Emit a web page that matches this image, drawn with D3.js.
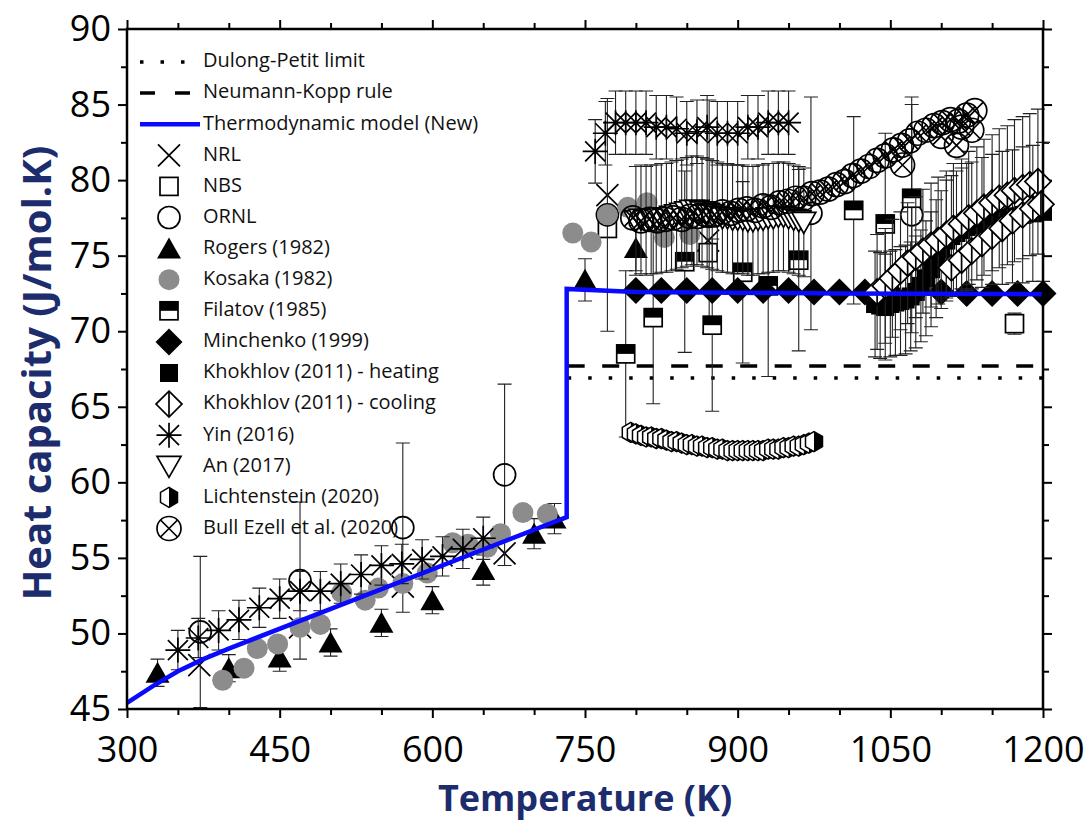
<!DOCTYPE html>
<html lang="en">
<head>
<meta charset="utf-8">
<title>Heat capacity vs temperature</title>
<script src="https://d3js.org/d3.v7.min.js"></script>
<style>
    body { margin: 0; background: #fff; }
    svg { display: block; font-family: "Open Sans", sans-serif; }
    .axis text { font-size: 36px; fill: #000; font-family: "Open Sans", sans-serif; }
    .axis line { stroke: #000; stroke-width: 2; }
    .axis path { display: none; }
    .legend text { font-size: 20px; fill: #111; dominant-baseline: middle; }
</style>
</head>
<body>
<div id="chart"></div>
<script>
// ---- data: [T (K), Cp (J/mol.K), error] ----
const xTicks = [300, 450, 600, 750, 900, 1050, 1200];
const yTicks = [45, 50, 55, 60, 65, 70, 75, 80, 85, 90];

const dulongT = [733, 1200], dulongCp = [66.9, 66.9];
const neumannT = [733, 1200], neumannCp = [67.7, 67.7];
const modelT = [300, 325, 350, 375, 400, 732, 732, 800, 1000, 1200];
const modelCp = [45.4, 46.5, 47.5, 48.3, 49.0, 57.7, 72.8, 72.6, 72.5, 72.45];

const nrl = [[371, 47.9], [470, 50.4], [571, 53.1], [671, 55.3], [772, 79.0], [871, 76.0]];
const nbs = [[772, 76.8, 0], [871, 75.2, 0], [1172, 70.5, 0.7]];
const ornl = [[372, 50.1, 5.0], [470, 53.5, 5.2], [571, 57.0, 5.6], [671, 60.5, 6.0],
    [772, 77.7, 7.7], [872, 77.6, 7.7], [972, 77.8, 7.7], [1071, 77.7, 7.8]];
const rogers = [[330, 47.4, 0.9], [400, 47.7, 0.9], [450, 48.4, 0.9], [500, 49.4, 0.9],
    [550, 50.7, 0.9], [600, 52.2, 0.9], [650, 54.2, 1.0], [700, 56.6, 1.0], [720, 57.6, 1.0],
    [750, 73.4, 1.4], [800, 75.5, 1.5]];
const kosaka = [[394, 46.9], [415, 47.7], [428, 49.0], [448, 49.3], [470, 50.4], [490, 50.6],
    [511, 52.7], [534, 52.2], [547, 53.0], [571, 53.3], [595, 54.0], [620, 56.0], [635, 55.9],
    [654, 55.7], [667, 56.6], [689, 58.0], [713, 57.9],
    [738, 76.5], [756, 75.9], [772, 77.7], [792, 78.2], [811, 78.5], [828, 76.2], [853, 76.4]];
const filatov = [[790, 68.5, 5.5], [817, 70.9, 5.7], [848, 74.6, 6.0], [875, 70.4, 5.7],
    [905, 73.9, 6.0], [930, 73.0, 6.0], [960, 74.7, 6.0], [1014, 78.0, 6.2], [1045, 77.1, 6.0],
    [1071, 78.8, 6.2]];
const minchenko = [[800, 72.7], [825, 72.7], [850, 72.7], [875, 72.7], [900, 72.7], [925, 72.7],
    [950, 72.7], [975, 72.6], [1000, 72.6], [1025, 72.6], [1050, 72.6], [1075, 72.6], [1100, 72.6],
    [1125, 72.5], [1150, 72.5], [1175, 72.5], [1200, 72.5]];
const khokhlovHeat = [[1035, 71.8, 3.5], [1040, 71.7, 3.5], [1045, 71.6, 3.5], [1050, 71.8, 3.5],
    [1055, 71.9, 3.5], [1060, 72.0, 3.6], [1065, 72.1, 3.6], [1070, 72.3, 3.6], [1075, 72.6, 3.7],
    [1080, 73.0, 3.7], [1085, 73.5, 3.8], [1090, 74.1, 3.8], [1095, 74.8, 3.9], [1100, 75.4, 3.9],
    [1105, 76.0, 4.0], [1110, 76.3, 4.0], [1115, 76.5, 4.1], [1120, 76.7, 4.1], [1125, 76.9, 4.2],
    [1130, 77.0, 4.2], [1140, 77.2, 4.3], [1150, 77.4, 4.3], [1160, 77.5, 4.4], [1170, 77.6, 4.4],
    [1180, 77.7, 4.5], [1190, 77.8, 4.5], [1200, 77.9, 4.6]];
const khokhlovCool = [[1037, 72.6, 3.8], [1045, 73.0, 3.8], [1052, 73.5, 3.9], [1060, 74.0, 3.9],
    [1067, 74.5, 4.0], [1075, 74.9, 4.0], [1082, 75.3, 4.1], [1090, 75.7, 4.1], [1097, 76.0, 4.2],
    [1105, 76.4, 4.2], [1112, 76.8, 4.3], [1120, 77.1, 4.3], [1127, 77.5, 4.4], [1135, 77.8, 4.4],
    [1142, 78.2, 4.5], [1150, 78.5, 4.5], [1157, 78.8, 4.6], [1165, 79.0, 4.6], [1172, 79.3, 4.7],
    [1180, 79.5, 4.7], [1187, 79.7, 4.7], [1195, 79.9, 4.8],
    [1110, 74.2, 0], [1120, 74.7, 0], [1130, 75.3, 0], [1140, 75.8, 0], [1150, 76.3, 0],
    [1160, 76.8, 0], [1170, 77.3, 0], [1180, 77.7, 0], [1190, 78.1, 0], [1198, 78.4, 0]];
const yin = [[350, 48.9, 1.3], [370, 49.7, 1.3], [390, 50.2, 1.3], [410, 50.9, 1.3], [430, 51.7, 1.3],
    [450, 52.3, 1.3], [470, 52.8, 1.3], [490, 52.8, 1.3], [510, 53.3, 1.3], [530, 53.9, 1.3],
    [550, 54.5, 1.3], [570, 54.6, 1.3], [590, 54.9, 1.3], [610, 55.1, 1.3], [630, 55.6, 1.3],
    [650, 56.3, 1.4], [760, 81.9, 2.1], [770, 83.1, 2.1], [780, 83.8, 2.1], [790, 83.8, 2.1],
    [800, 83.8, 2.1], [810, 83.8, 2.1], [820, 83.5, 2.1], [830, 83.5, 2.1], [840, 83.4, 2.1],
    [850, 83.1, 2.1], [860, 83.2, 2.1], [870, 83.5, 2.1], [880, 83.1, 2.1], [890, 83.1, 2.1],
    [900, 83.1, 2.1], [910, 83.5, 2.1], [920, 83.5, 2.1], [930, 83.8, 2.1], [940, 83.8, 2.1],
    [950, 83.8, 2.1]];
const an = [[800, 77.3], [805, 77.4], [810, 77.3], [815, 77.4], [820, 77.4], [825, 77.5], [830, 77.5],
    [835, 77.6], [840, 77.7], [845, 77.8], [850, 77.9], [855, 78.0], [860, 78.0], [865, 77.9],
    [870, 77.8], [875, 77.7], [880, 77.6], [885, 77.5], [890, 77.5], [895, 77.4], [900, 77.4],
    [905, 77.4], [910, 77.3], [915, 77.3], [920, 77.4], [925, 77.4], [930, 77.5], [935, 77.5],
    [940, 77.6], [945, 77.6], [950, 77.5], [955, 77.4], [960, 77.3], [965, 77.2]];
const anErr = 3.6;
const lichtenstein = [[795, 63.3], [800, 63.2], [805, 63.1], [810, 63.0], [815, 63.0], [820, 62.9],
    [825, 62.9], [830, 62.8], [835, 62.7], [840, 62.7], [845, 62.6], [850, 62.5], [855, 62.5],
    [860, 62.4], [865, 62.4], [870, 62.3], [875, 62.3], [880, 62.2], [885, 62.2], [890, 62.1],
    [895, 62.1], [900, 62.1], [905, 62.1], [910, 62.1], [915, 62.1], [920, 62.1], [925, 62.1],
    [930, 62.2], [935, 62.2], [940, 62.2], [945, 62.3], [950, 62.3], [955, 62.4], [960, 62.4],
    [965, 62.5], [970, 62.6], [975, 62.7]];
const bullEzell = [[797, 77.5], [805, 77.3], [813, 77.4], [821, 77.3], [829, 77.4], [837, 77.5],
    [845, 77.4], [853, 77.6], [861, 77.6], [869, 77.7], [877, 77.7], [885, 77.9], [893, 77.8],
    [901, 78.0], [909, 78.1], [917, 78.0], [925, 78.3], [933, 78.2], [941, 78.5], [949, 78.6],
    [957, 78.8], [965, 78.8], [973, 79.1], [981, 79.2], [989, 79.4], [997, 79.7], [1005, 79.9],
    [1013, 80.3], [1021, 80.6], [1029, 80.9], [1037, 81.3], [1045, 81.6], [1053, 82.0], [1062, 81.0],
    [1061, 82.3], [1069, 82.6], [1077, 83.1], [1085, 83.3], [1093, 83.6], [1101, 83.8], [1100, 82.9],
    [1109, 84.0], [1115, 82.3], [1117, 83.9], [1120, 83.5], [1125, 84.3], [1130, 83.3], [1133, 84.6]];

const legendNames = ['Dulong-Petit limit', 'Neumann-Kopp rule', 'Thermodynamic model (New)', 'NRL', 'NBS',
    'ORNL', 'Rogers (1982)', 'Kosaka (1982)', 'Filatov (1985)', 'Minchenko (1999)',
    'Khokhlov (2011) - heating', 'Khokhlov (2011) - cooling', 'Yin (2016)', 'An (2017)',
    'Lichtenstein (2020)', 'Bull Ezell et al. (2020)'];
const legendKinds = ['dot', 'dash', 'blue', 'x', 'square', 'circle', 'triUp', 'grey', 'half', 'diamond',
    'blackSq', 'diamondLine', 'star', 'triDown', 'hex', 'bull'];

// ---- layout ----
const svgWidth = 1086, svgHeight = 824;
const plotLeft = 127, plotRight = 1043, plotTop = 29, plotBottom = 709;

const svg = d3.select('#chart').append('svg')
    .attr('width', svgWidth).attr('height', svgHeight);
svg.append('rect').attr('width', svgWidth).attr('height', svgHeight).attr('fill', '#fff');

const x = d3.scaleLinear().domain([300, 1200]).range([plotLeft, plotRight]);
const y = d3.scaleLinear().domain([45, 90]).range([plotBottom, plotTop]);

const xMinor = d3.range(300, 1201, 50).filter(v => v % 150 !== 0);
const yMinor = d3.range(45, 90.1, 2.5).filter(v => v % 5 !== 0);

function addAxis(axisFn, scale, values, size, translate, labels) {
    const a = axisFn(scale).tickValues(values).tickSize(size).tickSizeOuter(0);
    if (!labels) a.tickFormat('');
    else a.tickFormat(d3.format('d')).tickPadding(axisFn === d3.axisBottom ? 18 : 7);
    const g = svg.append('g').attr('class', 'axis').attr('transform', translate).call(a);
    g.attr('font-family', null).attr('font-size', null);
    return g;
}
addAxis(d3.axisBottom, x, xTicks, 9, `translate(0,${plotBottom})`, true);
addAxis(d3.axisBottom, x, xMinor, 6, `translate(0,${plotBottom})`, false);
addAxis(d3.axisTop, x, xTicks, 9, `translate(0,${plotTop})`, false);
addAxis(d3.axisTop, x, xMinor, 6, `translate(0,${plotTop})`, false);
addAxis(d3.axisLeft, y, yTicks, 9, `translate(${plotLeft},0)`, true);
addAxis(d3.axisLeft, y, yMinor, 6, `translate(${plotLeft},0)`, false);
addAxis(d3.axisRight, y, yTicks, 9, `translate(${plotRight},0)`, false);
addAxis(d3.axisRight, y, yMinor, 6, `translate(${plotRight},0)`, false);

svg.append('text')
    .attr('transform', `translate(40,${(plotTop + plotBottom) / 2 + 4}) rotate(-90)`)
    .attr('text-anchor', 'middle').attr('dominant-baseline', 'middle')
    .attr('font-size', '40px').attr('font-weight', 'bold').attr('fill', '#1c2c6c')
    .text('Heat capacity (J/mol.K)');
svg.append('text')
    .attr('x', (plotLeft + plotRight) / 2).attr('y', 811)
    .attr('text-anchor', 'middle')
    .attr('font-size', '36px').attr('font-weight', 'bold').attr('fill', '#1c2c6c')
    .text('Temperature (K)');

// ---- markers ----
function drawMarker(g, kind, cx, cy) {
    const m = g.append('g').attr('transform', `translate(${cx},${cy})`);
    const sw = 1.7;
    switch (kind) {
        case 'x':
            m.append('path').attr('d', 'M-11,-11L11,11M-11,11L11,-11')
                .attr('stroke', '#000').attr('stroke-width', sw).attr('fill', 'none');
            break;
        case 'square':
            m.append('rect').attr('x', -9).attr('y', -9).attr('width', 18).attr('height', 18)
                .attr('fill', '#fff').attr('stroke', '#000').attr('stroke-width', sw);
            break;
        case 'circle':
            m.append('circle').attr('r', 11).attr('fill', 'none')
                .attr('stroke', '#000').attr('stroke-width', sw);
            break;
        case 'triUp':
            m.append('path').attr('d', 'M0,-11L12,10L-12,10Z').attr('fill', '#000');
            break;
        case 'grey':
            m.append('circle').attr('r', 10.5).attr('fill', '#8c8c8c');
            break;
        case 'half':
            m.append('rect').attr('x', -9).attr('y', -9).attr('width', 18).attr('height', 18)
                .attr('fill', '#fff').attr('stroke', '#000').attr('stroke-width', sw);
            m.append('rect').attr('x', -9).attr('y', -9).attr('width', 18).attr('height', 9).attr('fill', '#000');
            break;
        case 'diamond':
            m.append('path').attr('d', 'M0,-13.5L13.5,0L0,13.5L-13.5,0Z').attr('fill', '#000');
            break;
        case 'blackSq':
            m.append('rect').attr('x', -9).attr('y', -9).attr('width', 18).attr('height', 18).attr('fill', '#000');
            break;
        case 'diamondLine':
            m.append('path').attr('d', 'M0,-13L13,0L0,13L-13,0Z')
                .attr('fill', '#fff').attr('stroke', '#000').attr('stroke-width', sw);
            m.append('path').attr('d', 'M0,-13L0,13').attr('stroke', '#000').attr('stroke-width', sw);
            break;
        case 'star':
            m.append('path').attr('d', 'M-10,-10L10,10M-10,10L10,-10M0,-12.5L0,12.5M-12.5,0L12.5,0')
                .attr('stroke', '#000').attr('stroke-width', sw).attr('fill', 'none');
            break;
        case 'triDown':
            m.append('path').attr('d', 'M0,11L12,-10L-12,-10Z')
                .attr('fill', '#fff').attr('stroke', '#000').attr('stroke-width', sw);
            break;
        case 'hex':
            m.append('path').attr('d', 'M0,-10L8.5,-5L8.5,5L0,10L-8.5,5L-8.5,-5Z').attr('fill', '#fff');
            m.append('path').attr('d', 'M0,-10L8.5,-5L8.5,5L0,10Z').attr('fill', '#000');
            m.append('path').attr('d', 'M0,-10L8.5,-5L8.5,5L0,10L-8.5,5L-8.5,-5Z')
                .attr('fill', 'none').attr('stroke', '#000').attr('stroke-width', 1.5);
            break;
        case 'bull':
            m.append('circle').attr('r', 12).attr('fill', 'none')
                .attr('stroke', '#000').attr('stroke-width', sw);
            m.append('path').attr('d', 'M-8.5,-8.5L8.5,8.5M-8.5,8.5L8.5,-8.5')
                .attr('stroke', '#000').attr('stroke-width', sw);
            break;
    }
}

function drawErrors(g, data, errOf) {
    data.forEach(d => {
        const e = errOf(d);
        if (!e) return;
        const px = x(d[0]), y1 = y(d[1] - e), y2 = y(d[1] + e);
        g.append('path')
            .attr('d', `M${px},${y1}L${px},${y2}M${px - 7},${y1}L${px + 7},${y1}M${px - 7},${y2}L${px + 7},${y2}`)
            .attr('stroke', '#222').attr('stroke-width', 1.1).attr('fill', 'none');
    });
}

function drawSeries(data, kind, errOf) {
    const g = svg.append('g');
    if (errOf) drawErrors(g, data, errOf);
    data.forEach(d => drawMarker(g, kind, x(d[0]), y(d[1])));
}

// reference lines
const refLine = d3.line().x(d => x(d[0])).y(d => y(d[1]));
svg.append('path').datum(d3.zip(dulongT, dulongCp)).attr('d', refLine)
    .attr('stroke', '#000').attr('stroke-width', 3.5).attr('stroke-dasharray', '3.5 17').attr('fill', 'none');
svg.append('path').datum(d3.zip(neumannT, neumannCp)).attr('d', refLine)
    .attr('stroke', '#000').attr('stroke-width', 3.5).attr('stroke-dasharray', '17 17.5').attr('fill', 'none');

drawSeries(nrl, 'x');
drawSeries(nbs, 'square', d => d[2]);
drawSeries(ornl, 'circle', d => d[2]);
drawSeries(rogers, 'triUp', d => d[2]);
drawSeries(kosaka, 'grey');
drawSeries(filatov, 'half', d => d[2]);
drawSeries(minchenko, 'diamond');
drawSeries(khokhlovHeat, 'blackSq', d => d[2]);
drawSeries(khokhlovCool, 'diamondLine', d => d[2]);
drawSeries(yin, 'star', d => d[2]);
drawSeries(an, 'triDown', () => anErr);
drawSeries(lichtenstein, 'hex');
drawSeries(bullEzell, 'bull');

// model curve on top
svg.append('path').datum(d3.zip(modelT, modelCp)).attr('d', refLine)
    .attr('stroke', '#0a0aff').attr('stroke-width', 4.5).attr('fill', 'none');

// frame
svg.append('rect').attr('x', plotLeft).attr('y', plotTop)
    .attr('width', plotRight - plotLeft).attr('height', plotBottom - plotTop)
    .attr('fill', 'none').attr('stroke', '#000').attr('stroke-width', 2.5);

// ---- legend ----
const legend = svg.append('g').attr('class', 'legend');
legendNames.forEach((name, i) => {
    const ly = 62 + i * 31.1;
    const kind = legendKinds[i];
    if (kind === 'dot') {
        legend.append('path').attr('d', `M140,${ly}L200,${ly}`)
            .attr('stroke', '#000').attr('stroke-width', 3.5).attr('stroke-dasharray', '3.5 17');
    } else if (kind === 'dash') {
        legend.append('path').attr('d', `M140,${ly}L200,${ly}`)
            .attr('stroke', '#000').attr('stroke-width', 3.5).attr('stroke-dasharray', '15 20');
    } else if (kind === 'blue') {
        legend.append('path').attr('d', `M140,${ly}L200,${ly}`)
            .attr('stroke', '#0a0aff').attr('stroke-width', 4.5);
    } else {
        drawMarker(legend, kind, 169, ly);
    }
    legend.append('text').attr('x', 203).attr('y', ly).text(name);
});
</script>
</body>
</html>
